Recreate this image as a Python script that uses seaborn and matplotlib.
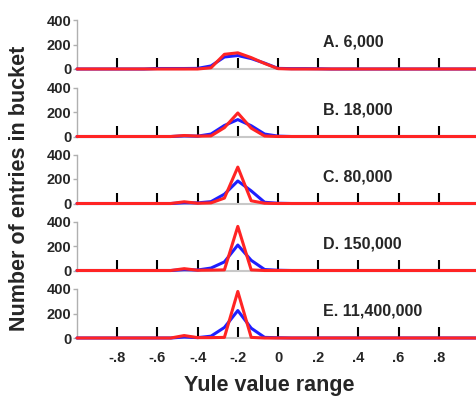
import numpy as np
import matplotlib
matplotlib.use("Agg")
import matplotlib.pyplot as plt
import seaborn as sns

# bucket positions (Yule value), step 1/15 from -1 to 1
bins = np.arange(31) / 15 - 1

labels = ["A. 6,000", "B. 18,000", "C. 80,000", "D. 150,000", "E. 11,400,000"]

blue_a = [0, 0, 0, 0, 0, 0, 4, 4, 4, 5, 25, 98, 110, 85, 48, 5, 3, 3, 2, 0, 0, 0, 0, 0, 0, 0, 0, 0, 0, 0, 0]
red_a = [0, 0, 0, 0, 0, 0, 0, 0, 0, 0, 10, 120, 132, 93, 45, 3, 0, 0, 0, 0, 0, 0, 0, 0, 0, 0, 0, 0, 0, 0, 0]

blue_b = [0, 0, 0, 0, 0, 0, 0, 0, 5, 3, 20, 90, 138, 88, 20, 3, 0, 0, 0, 0, 0, 0, 0, 0, 0, 0, 0, 0, 0, 0, 0]
red_b = [0, 0, 0, 0, 0, 0, 0, 0, 8, 3, 5, 72, 192, 68, 4, 0, 0, 0, 0, 0, 0, 0, 0, 0, 0, 0, 0, 0, 0, 0, 0]

blue_c = [0, 0, 0, 0, 0, 0, 0, 0, 6, 5, 15, 76, 184, 103, 10, 2, 0, 0, 0, 0, 0, 0, 0, 0, 0, 0, 0, 0, 0, 0, 0]
red_c = [0, 0, 0, 0, 0, 0, 0, 0, 14, 2, 5, 44, 297, 22, 2, 0, 0, 0, 0, 0, 0, 0, 0, 0, 0, 0, 0, 0, 0, 0, 0]

blue_d = [0, 0, 0, 0, 0, 0, 0, 0, 7, 4, 20, 70, 208, 83, 8, 2, 0, 0, 0, 0, 0, 0, 0, 0, 0, 0, 0, 0, 0, 0, 0]
red_d = [0, 0, 0, 0, 0, 0, 0, 0, 15, 2, 3, 5, 360, 5, 0, 0, 0, 0, 0, 0, 0, 0, 0, 0, 0, 0, 0, 0, 0, 0, 0]

blue_e = [0, 0, 0, 0, 0, 0, 0, 0, 8, 3, 15, 86, 224, 80, 5, 2, 0, 0, 0, 0, 0, 0, 0, 0, 0, 0, 0, 0, 0, 0, 0]
red_e = [0, 0, 0, 0, 0, 0, 0, 0, 20, 3, 3, 5, 380, 5, 0, 0, 0, 0, 0, 0, 0, 0, 0, 0, 0, 0, 0, 0, 0, 0, 0]

blues = [blue_a, blue_b, blue_c, blue_d, blue_e]
reds = [red_a, red_b, red_c, red_d, red_e]

xticks = [-0.8, -0.6, -0.4, -0.2, 0, 0.2, 0.4, 0.6, 0.8]
xticklabels = ["-.8", "-.6", "-.4", "-.2", "0", ".2", ".4", ".6", ".8"]

sns.set_style("white")
plt.rcParams["font.family"] = ["Liberation Sans", "DejaVu Sans"]
plt.rcParams["font.weight"] = "bold"

W, H = 477, 397
fig = plt.figure(figsize=(W / 100, H / 100), dpi=100)

baselines = [69, 136.5, 203.5, 270.5, 338]
for i in range(5):
    ax = fig.add_axes([77 / W, (H - baselines[i]) / H, 399 / W, 49 / H])
    sns.lineplot(x=bins, y=blues[i], color="#1f1fff", lw=2.2, ax=ax, clip_on=False, zorder=3)
    sns.lineplot(x=bins, y=reds[i], color="#ff2424", lw=2.2, ax=ax, clip_on=False, zorder=3)
    ax.set_xlim(-1, 0.985)
    ax.set_ylim(0, 400)
    for s in ["top", "right"]:
        ax.spines[s].set_visible(False)
    ax.spines["left"].set_color("#b0b0b0")
    ax.spines["bottom"].set_color("#c8c8c8")
    ax.spines["left"].set_linewidth(1)
    ax.spines["bottom"].set_linewidth(1.5)
    ax.set_yticks([0, 200, 400])
    ax.set_yticklabels(["0", "200", "400"], fontsize=10.5, fontweight="bold")
    ax.tick_params(axis="y", left=True, length=3, width=1, color="#b0b0b0", pad=1, direction="out")
    ax.set_xticks(xticks)
    ax.tick_params(axis="x", bottom=True, length=8, width=1.5, color="black", direction="in", pad=9)
    if i == 4:
        ax.set_xticklabels(xticklabels, fontsize=10.5, fontweight="bold")
    else:
        ax.set_xticklabels([])
    ax.text(0.226, 218, labels[i], fontsize=11.5, fontweight="bold", ha="left", va="center")
    ax.set_facecolor("none")

fig.text(20 / W, 1 - 188 / H, "Number of entries in bucket", rotation=90,
         fontsize=15.5, fontweight="bold", ha="center", va="center")
fig.text(269 / W, 1 - 385 / H, "Yule value range",
         fontsize=15.5, fontweight="bold", ha="center", va="center")

fig.savefig("out.png", dpi=100)
